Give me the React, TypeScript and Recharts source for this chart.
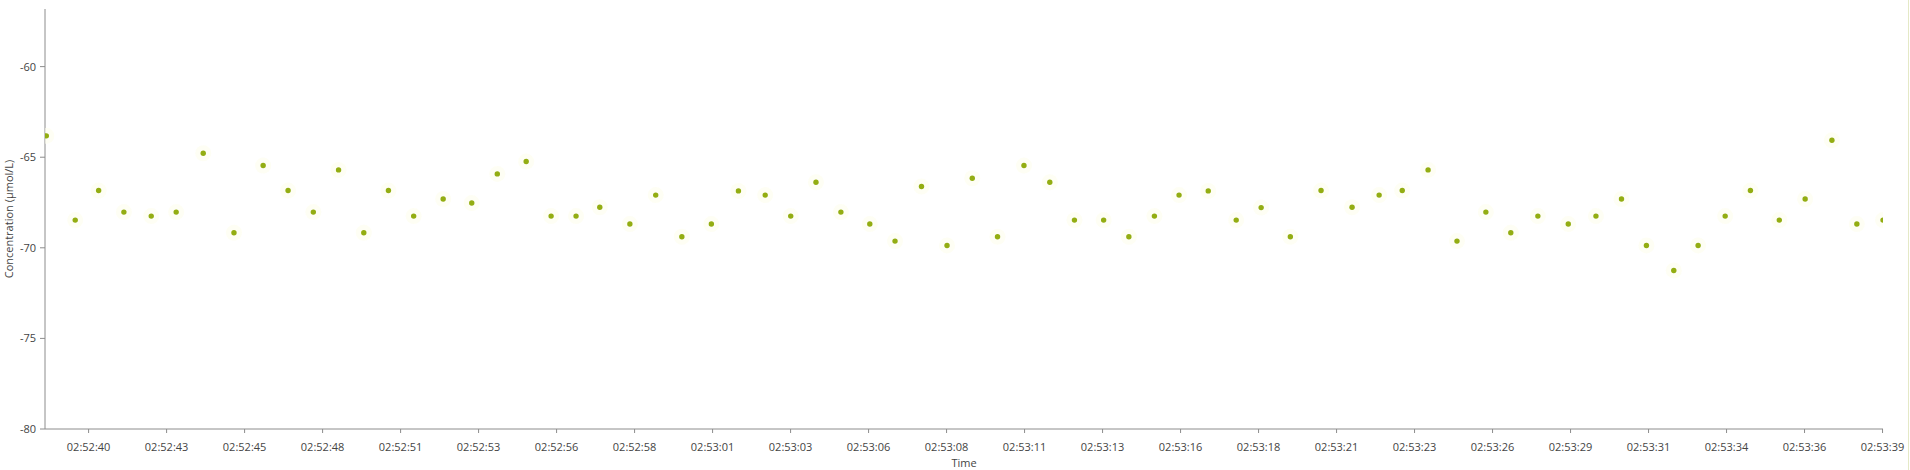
import React from 'react';
import { ScatterChart, Scatter, XAxis, YAxis, Label } from 'recharts';

// seconds after 02:52:00
const seconds = [
  39.11, 40.06, 40.83, 41.66, 42.56, 43.38, 44.27, 45.28, 46.24, 47.06,
  47.89, 48.72, 49.55, 50.36, 51.19, 52.16, 53.1, 53.94, 54.89, 55.71,
  56.53, 57.31, 58.3, 59.15, 60.01, 60.98, 61.87, 62.75, 63.59, 64.42,
  65.24, 66.19, 67.02, 67.89, 68.73, 69.56, 70.39, 71.26, 72.11, 72.92,
  73.88, 74.71, 75.55, 76.36, 77.32, 78.24, 79.06, 80.02, 81.03, 82.05,
  82.94, 83.7, 84.55, 85.5, 86.45, 87.27, 88.16, 89.16, 90.07, 90.91,
  91.73, 92.63, 93.43, 94.32, 95.15, 96.1, 96.95, 97.83, 98.65, 99.51,
];

const concentration = [
  -63.82, -68.47, -66.84, -68.03, -68.25, -68.03, -64.78, -69.17, -65.46, -66.84,
  -68.03, -65.7, -69.17, -66.84, -68.25, -67.31, -67.53, -65.92, -65.24, -68.25,
  -68.25, -67.76, -68.69, -67.09, -69.39, -68.69, -66.86, -67.09, -68.25, -66.38,
  -68.03, -68.69, -69.63, -66.62, -69.87, -66.16, -69.39, -65.46, -66.38, -68.47,
  -68.47, -69.39, -68.25, -67.09, -66.86, -68.47, -67.78, -69.39, -66.84, -67.76,
  -67.09, -66.84, -65.7, -69.63, -68.03, -69.17, -68.25, -68.69, -68.25, -67.31,
  -69.87, -71.25, -69.87, -68.25, -66.84, -68.47, -67.31, -64.06, -68.69, -68.47,
];

const tickLabels = [
  '02:52:40', '02:52:43', '02:52:45', '02:52:48', '02:52:51', '02:52:53',
  '02:52:56', '02:52:58', '02:53:01', '02:53:03', '02:53:06', '02:53:08',
  '02:53:11', '02:53:13', '02:53:16', '02:53:18', '02:53:21', '02:53:23',
  '02:53:26', '02:53:29', '02:53:31', '02:53:34', '02:53:36', '02:53:39',
];
const tickStart = 40.5;
const tickStep = 2.565;
const xTicks = tickLabels.map((_, i) => tickStart + i * tickStep);

const yTicks = [-80, -75, -70, -65, -60];

const data = seconds.map((t, i) => ({ t, c: concentration[i] }));

const font = "'Segoe UI', 'Open Sans', sans-serif";
const axisColor = '#8c8c8c';
const textColor = '#444';

const Dot = (props: any) => {
  const { cx, cy } = props;
  return (
    <g>
      <circle cx={cx} cy={cy} r={8} fill='#fdfdec' fillOpacity={0.6} />
      <circle cx={cx} cy={cy} r={2.7} fill='#93ad12' />
    </g>
  );
};

export default function App() {
  return (
    <div style={{ position: 'absolute', left: 0, top: 0, width: 1910, height: 470, background: '#fff' }}>
      <ScatterChart
        width={1910}
        height={470}
        margin={{ top: 9, right: 27, left: 0, bottom: 0 }}
      >
        <XAxis
          type='number'
          dataKey='t'
          domain={[39.066, 99.51]}
          allowDataOverflow
          ticks={xTicks}
          interval={0}
          tickFormatter={(_v: number, i: number) => tickLabels[i]}
          height={41}
          tickSize={4}
          tickMargin={10}
          stroke={axisColor}
          tick={{ fill: textColor, fontSize: 11, fontFamily: font }}
        >
          <Label
            value='Time'
            position='insideBottom'
            offset={3}
            style={{ fill: textColor, fontSize: 11, fontFamily: font }}
          />
        </XAxis>
        <YAxis
          type='number'
          dataKey='c'
          domain={[-80, -56.82]}
          allowDataOverflow
          ticks={yTicks}
          interval={0}
          width={45}
          tickSize={5}
          tickMargin={4}
          stroke={axisColor}
          tick={{ fill: textColor, fontSize: 11, fontFamily: font }}
        >
          <Label
            value='Concentration (µmol/L)'
            angle={-90}
            position='insideLeft'
            offset={9}
            style={{ fill: textColor, fontSize: 11, fontFamily: font, textAnchor: 'middle' }}
          />
        </YAxis>
        <Scatter data={data} shape={Dot} isAnimationActive={false} />
      </ScatterChart>
      <div style={{ position: 'absolute', left: 1908, top: 0, width: 1, height: 470, background: '#e4e9c6' }} />
    </div>
  );
}
